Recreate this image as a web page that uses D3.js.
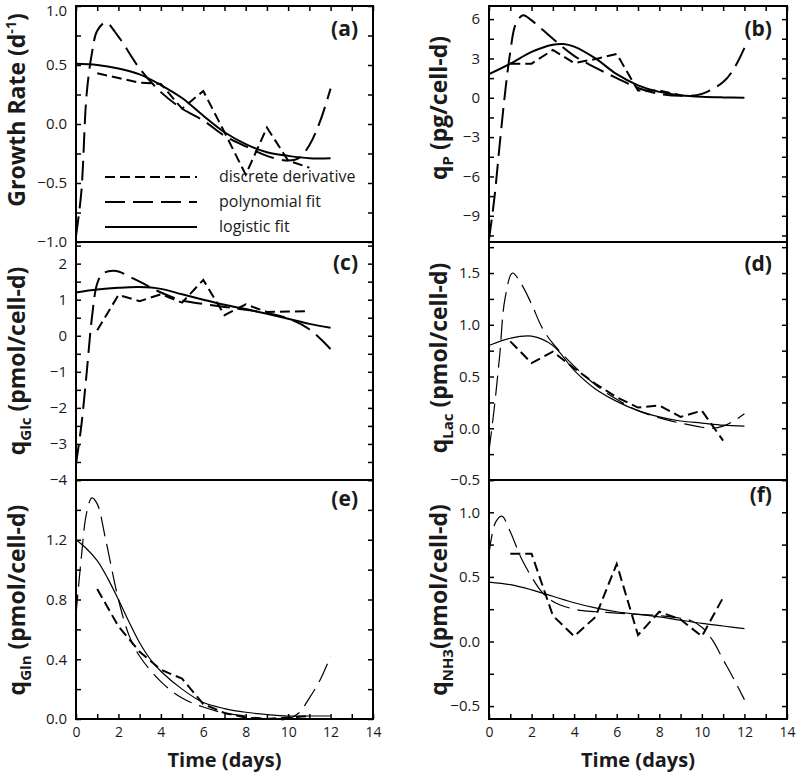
<!DOCTYPE html>
<html>
<head>
<meta charset="utf-8">
<script src="https://cdn.jsdelivr.net/npm/d3@7"></script>
<style>
  body { margin: 0; background: #fff; }
  text { font-family: "Open Sans", sans-serif; fill: #1a1a1a; }
</style>
</head>
<body>
<div id="chart"></div>
<script>
// values, [day, value]

// (a) growth rate
var discA = [[1,0.43],[2,0.39],[3,0.35],[4,0.34],[5,0.13],[6,0.28],[7,-0.07],[8,-0.43],[9,-0.03],[10,-0.31],[11,-0.37]];
var polyA = [[0,-0.95],[0.25,-0.58],[0.5,0.25],[0.75,0.6],[1,0.79],[1.4,0.86],[2,0.74],[3,0.47],[4,0.27],[5,0.13],[6,0.03],[7,-0.1],[8,-0.19],[9,-0.27],[10,-0.31],[10.5,-0.29],[11,-0.18],[11.5,0.02],[12,0.30]];
var logA  = [[0,0.51],[1,0.50],[2,0.47],[3,0.42],[4,0.33],[5,0.22],[6,0.07],[7,-0.07],[8,-0.17],[9,-0.24],[10,-0.27],[11,-0.29],[12,-0.29]];

// (b) qP
var discB = [[1,2.6],[2,2.6],[3,3.65],[4,2.65],[5,2.95],[6,3.35],[7,0.55],[8,0.55],[9,0.2]];
var polyB = [[0,-10.8],[0.25,-7.7],[0.5,-3.6],[0.75,0.3],[1,3.5],[1.25,5.6],[1.6,6.3],[2,5.9],[3,4.5],[4,3.2],[5,2.3],[6,1.5],[7,0.75],[8,0.3],[9,0.15],[10,0.3],[11,1.2],[11.5,2.2],[12,3.8]];
var logB  = [[0,1.8],[1,2.6],[2,3.5],[3,4.05],[3.5,4.1],[4,3.9],[5,3.0],[6,1.8],[7,0.95],[8,0.45],[9,0.2],[10,0.08],[11,0.03],[12,0.01]];

// (c) qGlc
var discC = [[1,0.15],[2,1.13],[3,0.96],[4,1.15],[5,0.92],[6,1.55],[7,0.57],[8,0.87],[9,0.66],[10,0.67],[11,0.68]];
var polyC = [[0,-3.56],[0.25,-2.5],[0.5,-1.05],[0.75,0.5],[1,1.45],[1.25,1.72],[1.75,1.8],[2,1.78],[3,1.5],[4,1.2],[5,0.98],[6,0.88],[7,0.8],[8,0.72],[9,0.63],[10,0.48],[11,0.18],[12,-0.37]];
var logC  = [[0,1.2],[1,1.28],[2,1.33],[3,1.35],[4,1.3],[5,1.15],[6,1.0],[7,0.86],[8,0.74],[9,0.61],[10,0.47],[11,0.33],[12,0.22]];

// (d) qLac
var discD = [[1,0.84],[2,0.63],[3,0.74],[4,0.58],[5,0.43],[6,0.30],[7,0.20],[8,0.22],[9,0.11],[10,0.17],[11,-0.12]];
var polyD = [[0,-0.22],[0.25,0.2],[0.5,0.7],[0.75,1.25],[1.1,1.5],[1.5,1.4],[2,1.2],[2.5,0.97],[3,0.82],[4,0.6],[5,0.42],[6,0.28],[7,0.17],[8,0.1],[9,0.05],[10,0.01],[10.5,0.0],[11,0.02],[11.5,0.07],[12,0.14]];
var logD  = [[0,0.80],[1,0.87],[2,0.89],[3,0.80],[4,0.56],[5,0.38],[6,0.26],[7,0.17],[8,0.11],[9,0.07],[10,0.05],[11,0.03],[12,0.02]];

// (e) qGln
var discE = [[1,0.87],[2,0.62],[3,0.45],[4,0.33],[5,0.27],[6,0.10],[7,0.04],[8,0.01],[9,0.0],[10,0.01],[11,0.02]];
var polyE = [[0,0.7],[0.25,1.08],[0.5,1.38],[0.75,1.48],[1,1.44],[1.4,1.2],[2,0.8],[2.5,0.56],[3,0.42],[4,0.25],[5,0.14],[6,0.08],[7,0.04],[8,0.02],[9,0.0],[10,0.0],[10.5,0.04],[11,0.14],[11.5,0.26],[12,0.42]];
var logE  = [[0,1.2],[0.5,1.14],[1,1.06],[1.5,0.94],[2,0.8],[2.5,0.65],[3,0.51],[3.5,0.4],[4,0.32],[5,0.2],[6,0.11],[7,0.07],[8,0.045],[9,0.03],[10,0.02],[11,0.02],[12,0.02]];

// (f) qNH3
var discF = [[1,0.68],[2,0.68],[3,0.2],[4,0.04],[5,0.19],[6,0.6],[7,0.05],[8,0.23],[9,0.17],[10,0.04],[11,0.34]];
var polyF = [[0,0.68],[0.3,0.92],[0.6,0.97],[1,0.85],[1.5,0.65],[2,0.5],[2.5,0.38],[3,0.31],[4,0.25],[5,0.23],[6,0.22],[7,0.21],[8,0.2],[9,0.18],[9.5,0.16],[10,0.11],[10.5,0.01],[11,-0.14],[11.5,-0.29],[12,-0.45]];
var logF  = [[0,0.46],[1,0.44],[2,0.40],[3,0.35],[4,0.30],[5,0.26],[6,0.23],[7,0.21],[8,0.19],[9,0.165],[10,0.14],[11,0.12],[12,0.10]];

// tick labels
var xTicks  = [0,2,4,6,8,10,12,14];
var yTicksA = [-1,-0.5,0,0.5,1];
var yTicksB = [-9,-6,-3,0,3,6];
var yTicksC = [-4,-3,-2,-1,0,1,2];
var yTicksD = [-0.5,0,0.5,1,1.5];
var yTicksE = [0,0.4,0.8,1.2];
var yTicksF = [-0.5,0,0.5,1];

var legendNames = ["discrete derivative","polynomial fit","logistic fit"];

var width = 796, height = 777;

var svg = d3.select("#chart").append("svg")
  .attr("width", width)
  .attr("height", height);

// panel frame positions
var cols = [[76,373],[489,787]];
var rows = [[6,242],[242,480],[480,719]];

var panels = [
  {tag:"(a)", col:0, row:0, domain:[-1,1], ticks:yTicksA, minor:d3.range(-1,1.001,0.25), fmt:".1f",
   disc:discA, poly:polyA, logi:logA, thin:false, labelY:110, tagY:36},
  {tag:"(b)", col:1, row:0, domain:[-11,7], ticks:yTicksB, minor:d3.range(-10.5,6.1,1.5), fmt:"d",
   disc:discB, poly:polyB, logi:logB, thin:false, labelY:108, tagY:36},
  {tag:"(c)", col:0, row:1, domain:[-4,2.6], ticks:yTicksC, minor:d3.range(-4,2.51,0.5), fmt:"d",
   disc:discC, poly:polyC, logi:logC, thin:false, labelY:361, tagY:270},
  {tag:"(d)", col:1, row:1, domain:[-0.5,1.8], ticks:yTicksD, minor:d3.range(-0.5,1.76,0.25), fmt:".1f",
   disc:discD, poly:polyD, logi:logD, thin:true, labelY:358, tagY:271},
  {tag:"(e)", col:0, row:2, domain:[0,1.6], ticks:yTicksE, minor:d3.range(0,1.61,0.2), fmt:".1f",
   disc:discE, poly:polyE, logi:logE, thin:true, labelY:600, tagY:506},
  {tag:"(f)", col:1, row:2, domain:[-0.6,1.25], ticks:yTicksF, minor:d3.range(-0.5,1.26,0.25), fmt:".1f",
   disc:discF, poly:polyF, logi:logF, thin:true, labelY:600, tagY:502}
];

// y axis titles, drawn as rotated text with sub/superscripts
var yTitles = [
  [{t:"Growth Rate (d"},{t:"-1",sup:true},{t:")"}],
  [{t:"q"},{t:"P",sub:true},{t:" (pg/cell-d)"}],
  [{t:"q"},{t:"Glc",sub:true},{t:" (pmol/cell-d)"}],
  [{t:"q"},{t:"Lac",sub:true},{t:" (pmol/cell-d)"}],
  [{t:"q"},{t:"Gln",sub:true},{t:" (pmol/cell-d)"}],
  [{t:"q"},{t:"NH3",sub:true},{t:"(pmol/cell-d)"}]
];

function styleAxis(sel){
  sel.select(".domain").remove();
  sel.selectAll("line").attr("stroke","#000").attr("stroke-width",1.5);
  sel.attr("font-family","Open Sans").attr("font-size",15);
  sel.selectAll("text").attr("fill","#1a1a1a");
}

panels.forEach(function(p,i){
  var x0 = cols[p.col][0], x1 = cols[p.col][1];
  var y0 = rows[p.row][0], y1 = rows[p.row][1];

  var x = d3.scaleLinear().domain([0,14]).range([x0,x1]);
  var y = d3.scaleLinear().domain(p.domain).range([y1,y0]);

  var g = svg.append("g").attr("class","panel");

  var line = d3.line().x(function(d){return x(d[0]);}).y(function(d){return y(d[1]);});
  var smooth = d3.line().curve(d3.curveCatmullRom.alpha(0.5))
    .x(function(d){return x(d[0]);}).y(function(d){return y(d[1]);});

  var thinW = p.thin ? 1.2 : 2;

  g.append("path").attr("d", smooth(p.logi))
    .attr("fill","none").attr("stroke","#000").attr("stroke-width",thinW);
  g.append("path").attr("d", smooth(p.poly))
    .attr("fill","none").attr("stroke","#000").attr("stroke-width",thinW)
    .attr("stroke-dasharray","20,8");
  g.append("path").attr("d", line(p.disc))
    .attr("fill","none").attr("stroke","#000").attr("stroke-width",2)
    .attr("stroke-dasharray","10,5");

  // ticks inside on all sides
  g.append("g").attr("transform","translate("+x0+",0)")
    .call(d3.axisLeft(y).tickValues(p.minor).tickSize(-5).tickFormat("")).call(styleAxis);
  g.append("g").attr("transform","translate("+x1+",0)")
    .call(d3.axisRight(y).tickValues(p.minor).tickSize(-5).tickFormat("")).call(styleAxis);
  var lab = g.append("g").attr("transform","translate("+x0+",0)")
    .call(d3.axisLeft(y).tickValues(p.ticks).tickSize(0).tickPadding(9).tickFormat(d3.format(p.fmt)))
    .call(styleAxis);
  if(p.row==0){
    // keep the top label inside the page
    lab.selectAll(".tick text").filter(function(d){return d==p.domain[1];})
      .attr("dy","0.62em");
  }

  if(p.row==0){
    g.append("g").attr("transform","translate(0,"+y0+")")
      .call(d3.axisTop(x).tickValues(d3.range(0,15)).tickSize(-5).tickFormat("")).call(styleAxis);
  }
  if(p.row==2){
    g.append("g").attr("transform","translate(0,"+y1+")")
      .call(d3.axisBottom(x).tickValues(d3.range(0,15)).tickSize(-5).tickFormat("")).call(styleAxis);
    g.append("g").attr("transform","translate(0,"+y1+")")
      .call(d3.axisBottom(x).tickValues(xTicks).tickSize(0).tickPadding(8)).call(styleAxis)
      .attr("font-size",14);
    g.append("text")
      .attr("x",(x0+x1)/2).attr("y",767)
      .attr("text-anchor","middle")
      .style("font-size","20px").style("font-weight","bold")
      .text("Time (days)");
  }

  // frame
  g.append("rect").attr("x",x0).attr("y",y0).attr("width",x1-x0).attr("height",y1-y0)
    .attr("fill","none").attr("stroke","#000").attr("stroke-width",2);

  // panel letter
  g.append("text").attr("x",x1-15).attr("y",p.tagY)
    .attr("text-anchor","end")
    .style("font-size","21px").style("font-weight","bold")
    .text(p.tag);

  // y title
  var tx = p.col==0 ? 25 : 447;
  var title = g.append("text")
    .attr("transform","translate("+tx+","+p.labelY+") rotate(-90)")
    .attr("text-anchor","middle")
    .style("font-size","23px").style("font-weight","bold");
  var shift = 0;
  yTitles[i].forEach(function(s){
    var ts = title.append("tspan").text(s.t);
    if(s.sub){ ts.attr("dy",6).style("font-size","15px"); shift = 6; }
    else if(s.sup){ ts.attr("dy",-9).style("font-size","14px"); shift = -9; }
    else if(shift!=0){ ts.attr("dy",-shift); shift = 0; }
  });

  // legend only in (a)
  if(i==0){
    var dashes = ["10,5","20,8",null];
    legendNames.forEach(function(name,k){
      var ly = 177 + k*25;
      var ln = g.append("line").attr("x1",105).attr("x2",197).attr("y1",ly).attr("y2",ly)
        .attr("stroke","#000").attr("stroke-width",2);
      if(dashes[k]) ln.attr("stroke-dasharray",dashes[k]);
      g.append("text").attr("x",219).attr("y",ly+5)
        .style("font-size","16px")
        .text(name);
    });
  }
});
</script>
</body>
</html>
